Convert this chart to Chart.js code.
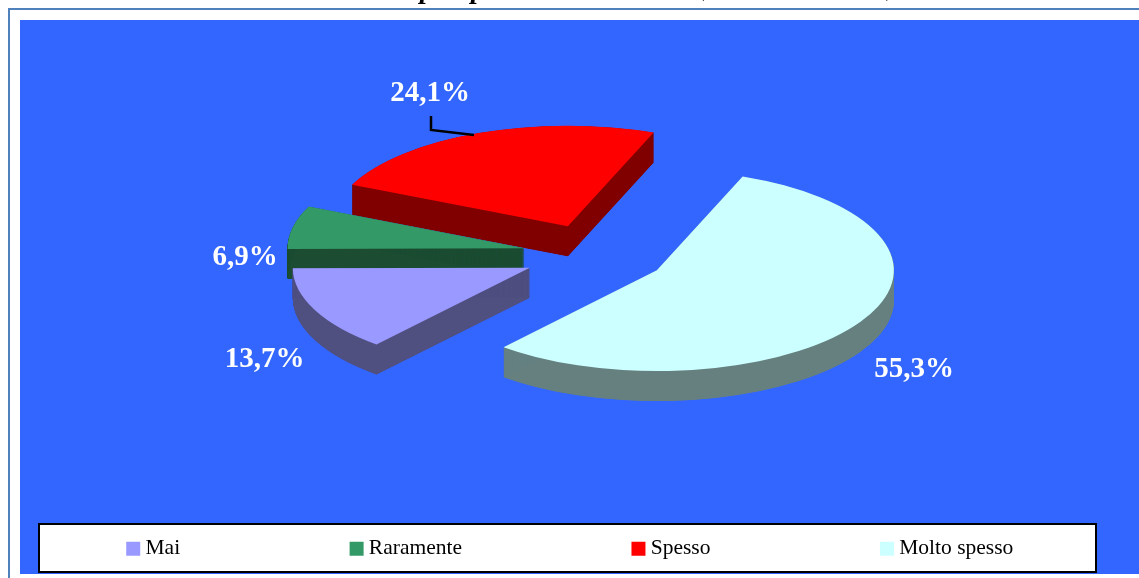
<!DOCTYPE html>
<html>
<head>
  <meta charset="utf-8">
  <script src="https://cdn.jsdelivr.net/npm/chart.js@4"></script>
  <style>
    html, body { margin: 0; padding: 0; background: #fff; overflow: hidden; }
    canvas { display: block; }
  </style>
</head>
<body>
  <canvas id="pieChart" width="1139" height="578"></canvas>

  <script>
    const categories = ["Mai", "Raramente", "Spesso", "Molto spesso"];
    const percentages = [13.7, 6.9, 24.1, 55.3];

    const topColors = ["#9999ff", "#339966", "#ff0000", "#ccffff"];
    const wallColors = ["#4f4f80", "#1c4d33", "#800000", "#668080"];

    // look of the tilted pie
    const pieCenter = { x: 595, y: 254.7 };
    const tilt = 0.425;
    const explode = 72;
    const depth = 30;
    const drawOrder = [2, 1, 0, 3]; // back to front

    // where each percentage text sits (center x, baseline y)
    const labelSpots = [[264.5, 367], [245, 265], [430, 101], [914, 377]];

    const legendBox = { left: 39, top: 524, right: 1096, bottom: 572 };

    function drawSlice(ctx, arc, color, yShift) {
      const mid = (arc.startAngle + arc.endAngle) / 2;
      const saved = arc.options;
      ctx.save();
      ctx.translate(pieCenter.x, pieCenter.y + yShift);
      ctx.scale(1, tilt);
      ctx.translate(Math.cos(mid) * explode - arc.x, Math.sin(mid) * explode - arc.y);
      arc.options = Object.assign({}, saved, { backgroundColor: color, borderWidth: 0 });
      arc.draw(ctx);
      arc.options = saved;
      ctx.restore();
    }

    const pageBackground = {
      id: "pageBackground",
      beforeDraw(chart) {
        const ctx = chart.ctx;
        ctx.save();
        ctx.fillStyle = "#fff";
        ctx.fillRect(0, 0, 1139, 578);
        // frame of the page
        ctx.fillStyle = "#4f81bd";
        ctx.fillRect(8, 8, 1131, 2);
        ctx.fillRect(8, 8, 2, 570);
        // plot area
        ctx.fillStyle = "#3366ff";
        ctx.fillRect(20, 20, 1119, 554);
        // legend box
        ctx.fillStyle = "#fff";
        ctx.strokeStyle = "#000";
        ctx.lineWidth = 2;
        ctx.fillRect(legendBox.left, legendBox.top, legendBox.right - legendBox.left, legendBox.bottom - legendBox.top);
        ctx.strokeRect(legendBox.left, legendBox.top, legendBox.right - legendBox.left, legendBox.bottom - legendBox.top);
        // what is left of the title, cut off by the top of the page
        ctx.fillStyle = "#000";
        ctx.font = "italic bold 28px 'Liberation Serif'";
        ctx.textAlign = "center";
        ctx.textBaseline = "alphabetic";
        ctx.fillText("p", 427, -2);
        ctx.fillText("p", 478, -2);
        ctx.fillText("(", 702, -5);
        ctx.fillText(")", 893, -5);
        ctx.restore();
      },
    };

    const tiltedPie = {
      id: "tiltedPie",
      afterLayout(chart) {
        // one row of legend items, inside its box
        const legend = chart.legend;
        legend.maxWidth = 1400;
        legend.fit();
        legend.left = -99;
        legend.right = 1244;
        legend.top = 363;
      },
      beforeDatasetsDraw(chart) {
        const ctx = chart.ctx;
        const arcs = chart.getDatasetMeta(0).data;
        drawOrder.forEach((i) => {
          // deepest copy last, so the wall ends up one flat colour
          for (let d = 0.25; d <= depth; d += 0.25) {
            drawSlice(ctx, arcs[i], wallColors[i], d);
          }
          drawSlice(ctx, arcs[i], topColors[i], 0);
        });

        ctx.save();
        // leader line of the Spesso label
        ctx.strokeStyle = "#000";
        ctx.lineWidth = 2.5;
        ctx.beginPath();
        ctx.moveTo(431, 116);
        ctx.lineTo(431, 130);
        ctx.lineTo(474, 135);
        ctx.stroke();
        // percentage labels
        ctx.fillStyle = "#fff";
        ctx.font = "bold 29px 'Liberation Serif'";
        ctx.textAlign = "center";
        ctx.textBaseline = "alphabetic";
        percentages.forEach((p, i) => {
          ctx.fillText(p.toFixed(1).replace(".", ",") + "%", labelSpots[i][0], labelSpots[i][1]);
        });
        ctx.restore();
        return false;
      },
    };

    new Chart(document.getElementById("pieChart"), {
      type: "pie",
      data: {
        labels: categories,
        datasets: [{
          data: percentages,
          backgroundColor: topColors,
          borderWidth: 0,
          radius: 237,
        }],
      },
      options: {
        responsive: false,
        maintainAspectRatio: false,
        animation: false,
        rotation: 220.3,
        plugins: {
          tooltip: { enabled: false },
          legend: {
            position: "bottom",
            labels: {
              color: "#000",
              font: { family: "'Liberation Serif'", size: 21.5 },
              usePointStyle: true,
              pointStyle: "rect",
              boxWidth: 3,
              boxHeight: 14,
              padding: 175,
            },
          },
        },
      },
      plugins: [pageBackground, tiltedPie],
    });
  </script>
</body>
</html>
